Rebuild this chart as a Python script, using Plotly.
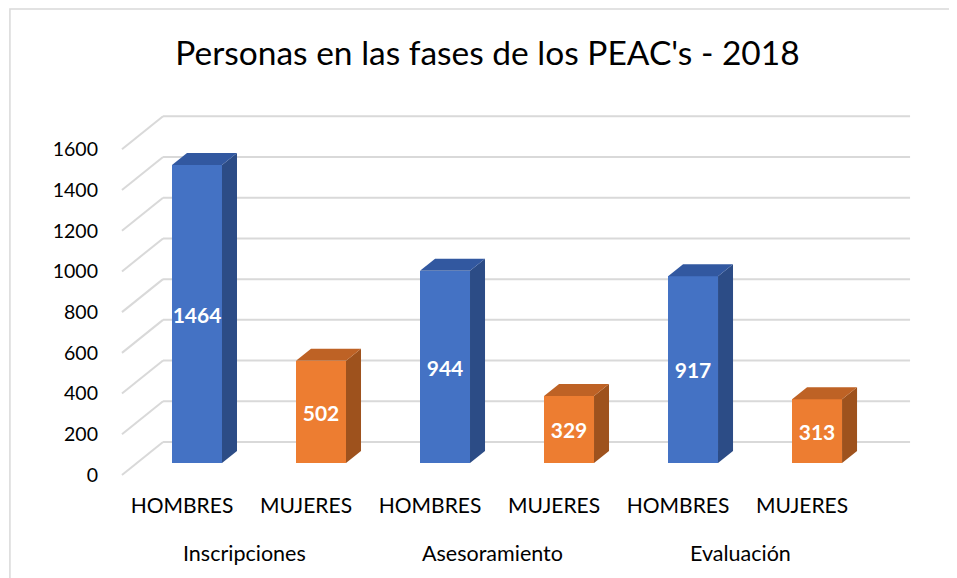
import plotly.graph_objects as go

# ---- data ----
phases = ["Inscripciones", "Asesoramiento", "Evaluación"]
genders = ["HOMBRES", "MUJERES"]
values = [1464, 502, 944, 329, 917, 313]          # in order phase x gender
y_ticks = [0, 200, 400, 600, 800, 1000, 1200, 1400, 1600]
title = "Personas en las fases de los PEAC's - 2018"

# ---- style / geometry ----
FONT = "Lato"
BLUE, BLUE_SIDE, BLUE_TOP = "#4472C4", "#2C4C86", "#3258A0"
ORNG, ORNG_SIDE, ORNG_TOP = "#ED7D31", "#9E521D", "#BE6225"
GRID = "#D9D9D9"
W = 0.403           # bar width (x units)
DX, DY = 0.121, 59  # depth offset of bar (x units, y units)
FRONT_OFF = -59     # front edge of floor relative to bar face
BACK_OFF = 103      # back wall relative to bar face
WALL_X0, WALL_X1 = -0.274, 5.75
FRONT_X0 = -0.605

n = len(values)
xs = list(range(n))
labels = [g for _ in phases for g in genders]
face = [BLUE if i % 2 == 0 else ORNG for i in range(n)]
side = [BLUE_SIDE if i % 2 == 0 else ORNG_SIDE for i in range(n)]
top = [BLUE_TOP if i % 2 == 0 else ORNG_TOP for i in range(n)]

fig = go.Figure()

# front faces
fig.add_trace(go.Bar(
    x=xs, y=values, width=W, marker=dict(color=face, line=dict(width=0)),
    text=[str(v) for v in values], textposition="inside", insidetextanchor="middle",
    textangle=0, constraintext="none",
    textfont=dict(family=FONT, size=21, color="white", weight="bold"),
    hoverinfo="skip", showlegend=False,
))

# side and top faces
for x, v, cs, ct in zip(xs, values, side, top):
    xr = x + W / 2
    xl = x - W / 2
    fig.add_trace(go.Scatter(
        x=[xr, xr + DX, xr + DX, xr, xr], y=[0, DY, v + DY, v, 0],
        fill="toself", fillcolor=cs, mode="lines", line=dict(width=0, color=cs),
        hoverinfo="skip", showlegend=False))
    fig.add_trace(go.Scatter(
        x=[xl, xr, xr + DX, xl + DX, xl], y=[v, v, v + DY, v + DY, v],
        fill="toself", fillcolor=ct, mode="lines", line=dict(width=0, color=ct),
        hoverinfo="skip", showlegend=False))

# gridlines: back wall + side diagonals
shapes = []
for t in y_ticks:
    shapes.append(dict(type="line", xref="x", yref="y", layer="below",
                       x0=WALL_X0, x1=WALL_X1, y0=t + BACK_OFF, y1=t + BACK_OFF,
                       line=dict(color=GRID, width=2)))
    shapes.append(dict(type="line", xref="x", yref="y", layer="below",
                       x0=FRONT_X0, x1=WALL_X0, y0=t + FRONT_OFF, y1=t + BACK_OFF,
                       line=dict(color=GRID, width=2)))
# outer chart border
shapes.append(dict(type="rect", xref="paper", yref="paper", layer="below",
                   x0=-0.124, x1=1.3, y0=-0.4, y1=1.2035,
                   line=dict(color="#D9D9D9", width=1.5)))

annotations = []
for k, ph in enumerate(phases):
    annotations.append(dict(x=2 * k + 0.5 - DX, y=-0.163, xref="x", yref="paper",
                            text=ph, showarrow=False, yanchor="middle",
                            font=dict(family=FONT, size=21.5, color="#000000")))

fig.update_layout(
    width=957, height=578,
    margin=dict(l=102, r=48, t=82, b=98),
    paper_bgcolor="white", plot_bgcolor="white",
    title=dict(text=title, x=0.501, xanchor="center", y=0.921, yanchor="middle",
               font=dict(family=FONT, size=33.5, color="#000000")),
    shapes=shapes, annotations=annotations,
    xaxis=dict(range=[-0.7016, 5.806], tickvals=[x - DX for x in xs], ticktext=labels,
               showgrid=False, zeroline=False, showline=False, ticks="",
               ticklabelstandoff=3,
               tickfont=dict(family=FONT, size=21, color="#000000"), fixedrange=True),
    yaxis=dict(range=[-122.8, 1832], tickvals=[t + FRONT_OFF for t in y_ticks],
               ticktext=[str(t) for t in y_ticks],
               showgrid=False, zeroline=False, showline=False, ticks="",
               ticklabelstandoff=11,
               tickfont=dict(family=FONT, size=19.5, color="#000000"), fixedrange=True),
    bargap=0,
)

fig.write_html("out.html")
